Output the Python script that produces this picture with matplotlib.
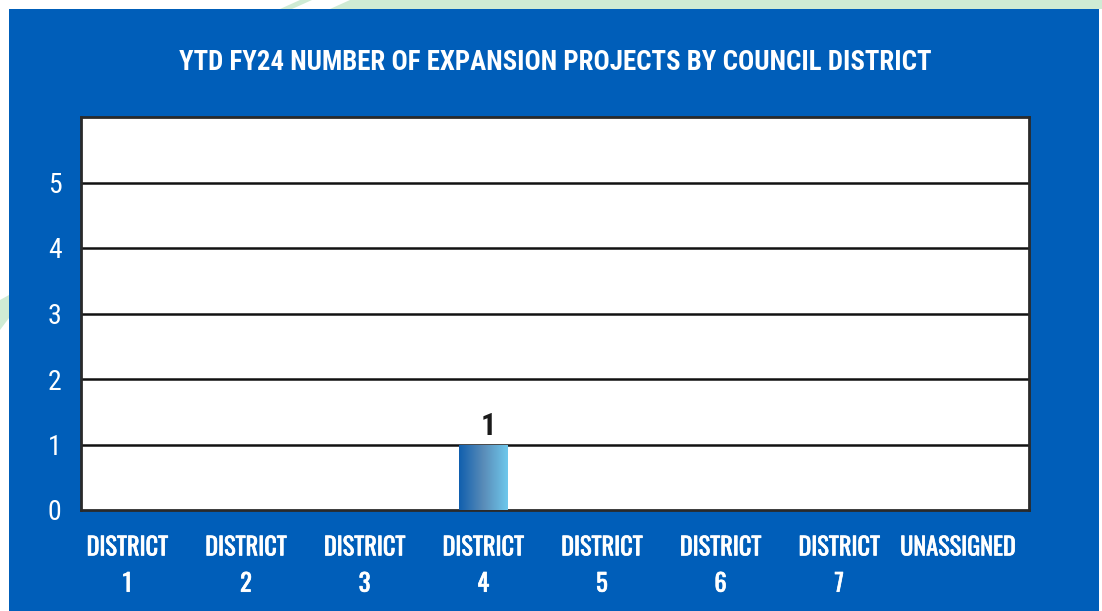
import numpy as np
import matplotlib.pyplot as plt
import matplotlib.patheffects as pe
from matplotlib.patches import Rectangle, Polygon
from matplotlib import font_manager

# ==================== Data ====================
CATEGORIES = ["DISTRICT\n1", "DISTRICT\n2", "DISTRICT\n3", "DISTRICT\n4",
              "DISTRICT\n5", "DISTRICT\n6", "DISTRICT\n7", "UNASSIGNED"]
PROJECTS = [0, 0, 0, 1, 0, 0, 0, 0]
Y_TICKS = [0, 1, 2, 3, 4, 5]

TITLE = "YTD FY24 NUMBER OF EXPANSION PROJECTS BY COUNCIL DISTRICT"

# ==================== Style ====================
PANEL_BLUE = '#005EB9'
GREEN = '#CFEBD4'
BAR_LEFT = np.array([0x10, 0x5F, 0xAE]) / 255
BAR_MID = np.array([0x5A, 0x8C, 0xB8]) / 255
BAR_RIGHT = np.array([0x6E, 0xC8, 0xEC]) / 255

names = {f.name for f in font_manager.fontManager.ttflist}
def pick(*cands):
    for c in cands:
        if c in names:
            return c
    return 'DejaVu Sans'

TITLE_FONT = pick('Roboto Condensed', 'IBM Plex Sans Condensed', 'Fjalla One')
LABEL_FONT = pick('Oswald', 'Bebas Neue', 'Fjalla One', 'IBM Plex Sans Condensed')
NUM_FONT = pick('Roboto Condensed', 'IBM Plex Sans Condensed')

fig = plt.figure(figsize=(11.02, 6.11), dpi=100)
fig.patch.set_facecolor('white')

# decorative green stripes behind the panel
W, H = 1102, 611
def fpoly(pts, color):
    fig.patches.append(Polygon([(x / W, 1 - y / H) for x, y in pts], closed=True,
                               transform=fig.transFigure, facecolor=color,
                               edgecolor='none', zorder=0))
fpoly([(280, 9), (300, 0), (312, 0), (292, 9)], GREEN)
fpoly([(330, 9), (350, 0), (1102, 0), (1102, 9)], GREEN)
fpoly([(0, 300), (9, 295), (9, 318), (0, 330)], GREEN)

# blue panel
fig.patches.append(Rectangle((9 / W, 0), (1099 - 9) / W, 1 - 9 / H,
                             transform=fig.transFigure, facecolor=PANEL_BLUE,
                             edgecolor='none', zorder=1))

ax = fig.add_axes([81 / W, 1 - 510 / H, (1029 - 81) / W, (510 - 117) / H])
ax.set_facecolor('white')
ax.set_zorder(2)

x = np.arange(len(CATEGORIES))
bars = ax.bar(x, PROJECTS, width=0.41, color='none', zorder=3)

# horizontal gradient inside each bar
grad = np.linspace(0, 1, 256)
cols = np.zeros((1, 256, 3))
for i, t in enumerate(grad):
    if t < 0.5:
        c = BAR_LEFT + (BAR_MID - BAR_LEFT) * (t / 0.5)
    else:
        c = BAR_MID + (BAR_RIGHT - BAR_MID) * ((t - 0.5) / 0.5)
    cols[0, i] = c
for b, v in zip(bars, PROJECTS):
    if v <= 0:
        continue
    x0, w = b.get_x(), b.get_width()
    im = ax.imshow(cols, extent=(x0, x0 + w, 0, v), aspect='auto', zorder=3)
    im.set_clip_path(b)
    ax.text(x0 + w / 2 + 0.04, v + 0.05, str(v), ha='center', va='bottom',
            fontsize=22, fontweight='bold', family=NUM_FONT, color='#1a1a1a', zorder=4)

ax.set_xlim(-0.39, 7.6)
ax.set_ylim(0, 6)
ax.set_yticks(Y_TICKS)
ax.set_xticks(x)
ax.set_xticklabels(CATEGORIES, fontsize=17.5, fontweight='bold', family=LABEL_FONT,
                   color='white', linespacing=1.7, va='top')
# fake a heavier weight for the condensed labels
for lbl in ax.get_xticklabels():
    lbl.set_path_effects([pe.withStroke(linewidth=0.5, foreground='white')])

for lbl in ax.get_yticklabels():
    lbl.set_fontsize(20)
    lbl.set_family(NUM_FONT)
    lbl.set_color('white')
ax.tick_params(axis='both', length=0)
ax.tick_params(axis='y', pad=14)
ax.tick_params(axis='x', pad=19)

for yv in Y_TICKS[1:]:
    ax.axhline(yv, color='#111111', linewidth=1.8, zorder=2)

for s in ax.spines.values():
    s.set_color('#2a2a2a')
    s.set_linewidth(2)

fig.text(555 / W, 1 - 63 / H, TITLE, ha='center', va='center', color='white',
         fontsize=19.4, fontweight='bold', family=TITLE_FONT, zorder=5)

fig.savefig('out.png', dpi=100)
